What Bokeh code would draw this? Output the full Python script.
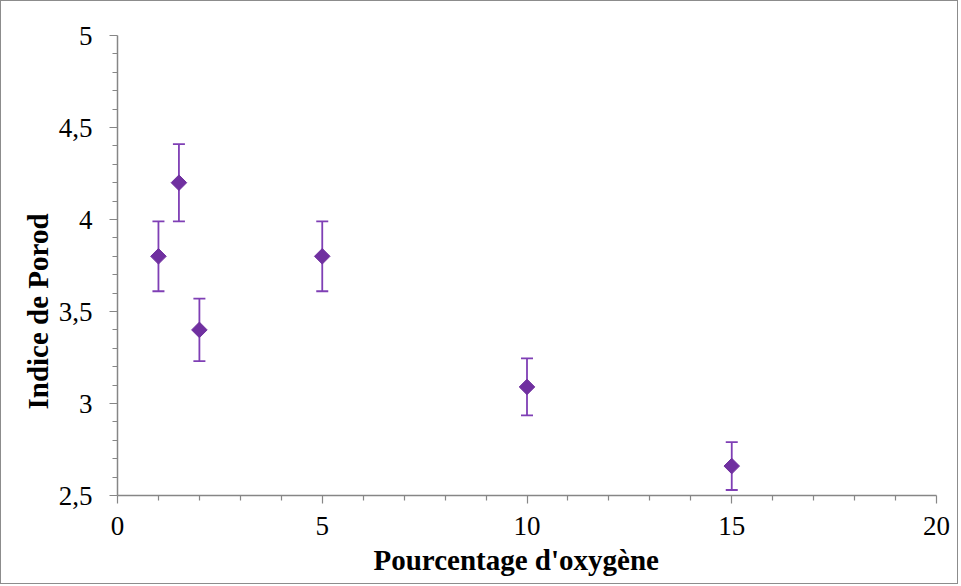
import math
from bokeh.plotting import figure
from bokeh.models import (ColumnDataSource, Whisker, TeeHead, Range1d, FixedTicker,
                          CustomJSTickFormatter, Title)
from bokeh.embed import file_html
from bokeh.resources import INLINE

# data
oxygen = [1, 1.5, 2, 5, 10, 15]
porod = [3.80, 4.20, 3.40, 3.80, 3.09, 2.66]
err = [0.19, 0.21, 0.17, 0.19, 0.155, 0.13]

x_major = [0, 5, 10, 15, 20]
x_minor = [1, 2, 3, 4, 6, 7, 8, 9, 11, 12, 13, 14, 16, 17, 18, 19]
y_major = [2.5, 3.0, 3.5, 4.0, 4.5, 5.0]
y_minor = [2.6, 2.7, 2.8, 2.9, 3.1, 3.2, 3.3, 3.4, 3.6, 3.7, 3.8, 3.9,
           4.1, 4.2, 4.3, 4.4, 4.6, 4.7, 4.8, 4.9]
x_title = "Pourcentage d'oxygène"
y_title = "Indice de Porod"

src = ColumnDataSource(dict(
    x=oxygen, y=porod,
    upper=[v + e for v, e in zip(porod, err)],
    lower=[v - e for v, e in zip(porod, err)],
))

W, H = 958, 584
p = figure(width=W, height=H, output_backend="svg", toolbar_location=None,
           x_range=Range1d(0, 20), y_range=Range1d(2.5, 5),
           min_border_left=116, min_border_right=W - 935,
           min_border_top=34, min_border_bottom=H - 494)
p.styles = {"border": "1px solid #8c8c8c"}
p.outline_line_color = None
p.xgrid.visible = False
p.ygrid.visible = False
p.background_fill_color = "white"
p.border_fill_color = "white"

purple = "#7030A0"
ecol = "#7F3FB5"

p.add_layout(Whisker(source=src, base="x", upper="upper", lower="lower",
                     line_color=ecol, line_width=1.8,
                     upper_head=TeeHead(size=12, line_color=ecol, line_width=1.8),
                     lower_head=TeeHead(size=12, line_color=ecol, line_width=1.8)))
p.scatter("x", "y", source=src, marker="square", size=11, angle=math.pi / 4,
          fill_color=purple, line_color=purple)

fmt = CustomJSTickFormatter(code="return tick.toString().replace('.', ',');")
axcol = "#868686"
for ax, maj, mnr in ((p.xaxis[0], x_major, x_minor), (p.yaxis[0], y_major, y_minor)):
    ax.ticker = FixedTicker(ticks=maj, minor_ticks=mnr)
    ax.formatter = fmt
    ax.axis_line_color = axcol
    ax.axis_line_width = 1.5
    ax.major_tick_line_color = axcol
    ax.minor_tick_line_color = axcol
    ax.major_tick_line_width = 1.2
    ax.minor_tick_line_width = 1.2
    ax.major_tick_in = 0
    ax.minor_tick_in = 0
    ax.major_tick_out = 8
    ax.minor_tick_out = 5
    ax.major_label_text_font = "Liberation Serif"
    ax.major_label_text_font_size = "27px"
    ax.major_label_text_color = "black"

p.xaxis.major_label_standoff = 13
p.yaxis.major_label_standoff = 17

p.add_layout(Title(text=x_title, align="left", offset=256, standoff=8,
                   text_font="Liberation Serif", text_font_size="29px",
                   text_font_style="bold", text_color="black"), "below")
p.add_layout(Title(text=y_title, align="left", offset=86, standoff=4,
                   text_font="Liberation Serif", text_font_size="29px",
                   text_font_style="bold", text_color="black"), "left")

open("out.html", "w").write(file_html(p, INLINE))
